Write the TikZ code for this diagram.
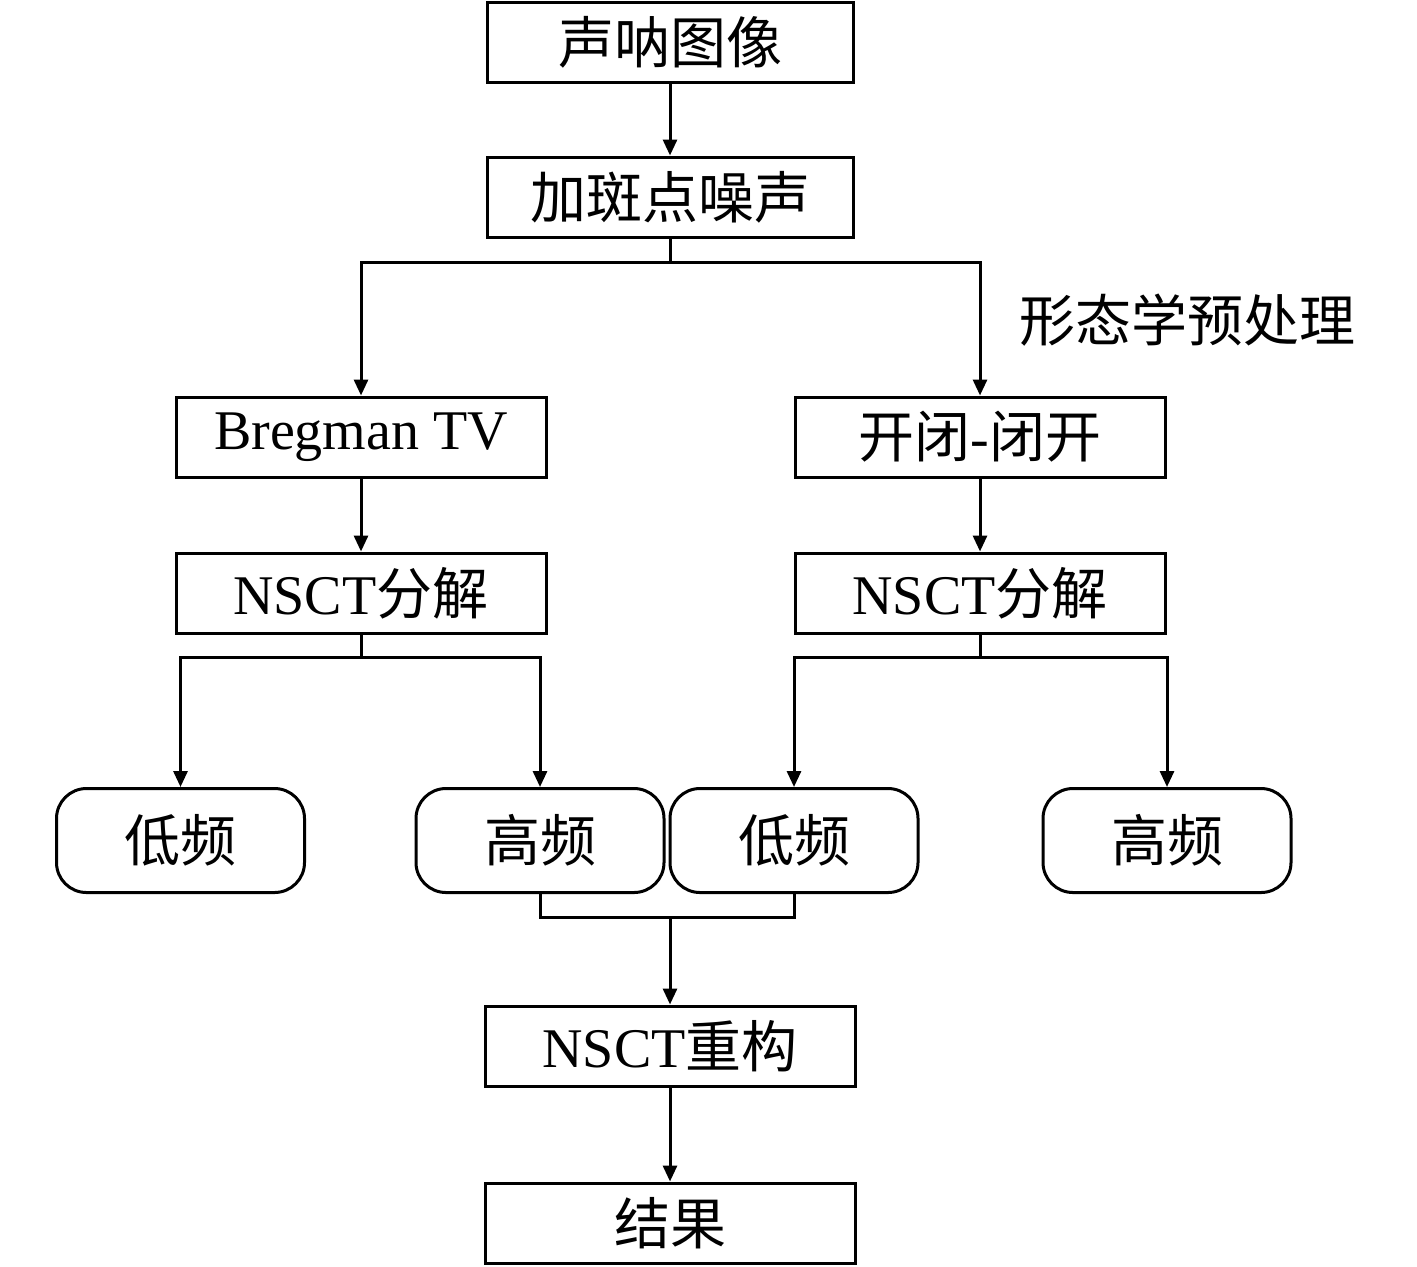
\documentclass[tikz,border=0pt]{standalone}
\usepackage{fontspec}
\setmainfont{Liberation Serif}
\newfontfamily\zhfont{Noto Sans CJK SC}
\newcommand\zh[1]{{\zhfont #1}}
\usetikzlibrary{arrows.meta}
\begin{document}
\begin{tikzpicture}[x=0.5pt,y=-0.5pt,
  box/.style={draw,line width=1.5pt,inner sep=0pt,font=\fontsize{28}{32}\selectfont},
  wbox/.style={box,minimum width=185pt,minimum height=40pt},
  rbox/.style={box,rounded corners=15pt,minimum width=124pt,minimum height=52pt},
  conn/.style={line width=1.5pt},
  arr/.style={conn,-{Triangle[length=8pt,width=7pt]}},
  lbl/.style={inner sep=0pt,font=\fontsize{28}{32}\selectfont}]
\useasboundingbox (0,0) rectangle (1417,1266);
\node[box,minimum width=183pt,minimum height=40pt] (a) at (670,42) {\zh{声呐图像}};
\node[box,minimum width=183pt,minimum height=40pt] (b) at (670,197) {\zh{加斑点噪声}};
\node[wbox] (c) at (361,437) {\raisebox{-2pt}{Bregman TV}};
\node[wbox] (d) at (980,437) {\zh{开闭}-\zh{闭开}};
\node[wbox] (e) at (361,593) {NSCT\zh{分解}};
\node[wbox] (f) at (980,593) {NSCT\zh{分解}};
\node[rbox] (g) at (180.5,840.5) {\zh{低频}};
\node[rbox] (h) at (540,840.5) {\zh{高频}};
\node[rbox] (i) at (794,840.5) {\zh{低频}};
\node[rbox] (j) at (1167,840.5) {\zh{高频}};
\node[wbox] (k) at (670,1046) {NSCT\zh{重构}};
\node[wbox] (l) at (670,1223) {\zh{结果}};
\node[lbl] (lab) at (1187,320) {\zh{形态学预处理}};
\draw[arr] (a.south) -- (b.north);
\coordinate (bj) at (670,262);
\draw[conn] (b.south) -- (bj);
\draw[arr] (bj) -| (c.north);
\draw[arr] (bj) -| (d.north);
\draw[arr] (c.south) -- (e.north);
\draw[arr] (d.south) -- (f.north);
\coordinate (ej) at (361,657);
\draw[conn] (e.south) -- (ej);
\draw[arr] (ej) -| (g.north);
\draw[arr] (ej) -| (h.north);
\coordinate (fj) at (980,657);
\draw[conn] (f.south) -- (fj);
\draw[arr] (fj) -| (i.north);
\draw[arr] (fj) -| (j.north);
\coordinate (m) at (670,917);
\draw[conn] (h.south) |- (m) -| (i.south);
\draw[arr] (m) -- (k.north);
\draw[arr] (k.south) -- (l.north);
\end{tikzpicture}
\end{document}
